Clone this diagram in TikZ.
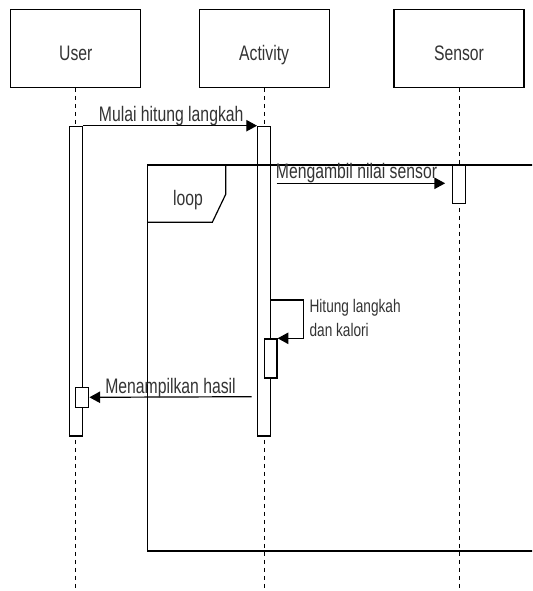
\documentclass[tikz,border=0pt]{standalone}
\usepackage{fontspec}
\setmainfont{Liberation Sans}[FakeStretch=0.75]
\usetikzlibrary{arrows.meta}
\definecolor{txt}{HTML}{333333}
\begin{document}
\begin{tikzpicture}[x=0.75pt,y=-0.75pt,
  head/.style={draw, line width=0.9pt, minimum width=97.5pt, minimum height=58.5pt,
    inner sep=0pt, text height=19pt, text depth=0pt,
    font=\fontsize{15.75pt}{18pt}\selectfont, text=txt},
  actbar/.style={draw, fill=white, line width=0.9pt, minimum width=9.75pt, inner sep=0pt},
  life/.style={dash pattern=on 3pt off 3pt, line width=0.75pt},
  msg/.style={line width=0.9pt, -{Triangle[length=8pt,width=8.5pt]}},
  frameline/.style={line width=0.9pt},
  lbl/.style={inner sep=0pt, anchor=base west, text=txt, font=\fontsize{15.75pt}{18pt}\selectfont},
  lblsmall/.style={lbl, font=\fontsize{13.65pt}{16pt}\selectfont}]
\useasboundingbox (0,0) rectangle (532,591);
\clip (0,0) rectangle (532,591);

% lifeline heads
\node[head] (user) at (75.8,48.3) {User};
\node[head] (act) at (264.1,48.3) {Activity};
\node[head] (sen) at (459,48.3) {Sensor};

% lifelines
\coordinate (uend) at (75.8,595);
\coordinate (aend) at (264.1,595);
\coordinate (send) at (459,595);
\draw[life] (user.south) -- (uend);
\draw[life] (act.south) -- (aend);
\draw[life] (sen.south) -- (send);

% activation bars
\node[actbar, minimum height=232.2pt, anchor=north] (ubar) at (75.8,125.7) {};
\node[actbar, minimum height=232.2pt, anchor=north] (abar) at (264.1,125.7) {};
\node[actbar, minimum height=28.7pt, anchor=north] (sbar) at (459.2,165) {};
\node[actbar, minimum height=29.25pt, minimum width=9.5pt, anchor=north] (asbar) at (270.7,338.3) {};
\node[actbar, minimum height=15pt, anchor=north] (usbar) at (82.3,386.7) {};

% loop frame
\draw[frameline] (545,165) -- (147.3,165) -- (147.3,551) -- (545,551);
\draw[frameline] (147.3,165) -- (225.7,165) -- (225.7,194.3) -- (212.3,222.3) -- (147.3,222.3);
\node[lbl, anchor=base] (looplbl) at (188,206) {loop};

% message 1
\draw[msg] (ubar.north east) -- (abar.north west);
\node[lbl] (m1) at (98.7,121.7) {Mulai hitung langkah};

% message 2
\coordinate (m2s) at (276.7,183.3);
\draw[msg, shorten >=5.25pt] (m2s) -- (m2s -| sbar.west);
\node[lbl] (m2) at (275.7,178.3) {Mengambil nilai sensor};

% self message
\coordinate (s1) at (303.3,300);
\draw[msg] (abar.east |- s1) -- (s1) |- (asbar.north east);
\node[lblsmall] (s1a) at (309.3,312.3) {Hitung langkah};
\node[lblsmall] (s1b) at (309.3,336.7) {dan kalori};

% message 3
\coordinate (m3s) at (251.7,396.7);
\draw[msg] (m3s) -- (usbar.east);
\node[lbl] (m3) at (105,393.3) {Menampilkan hasil};
\end{tikzpicture}
\end{document}
